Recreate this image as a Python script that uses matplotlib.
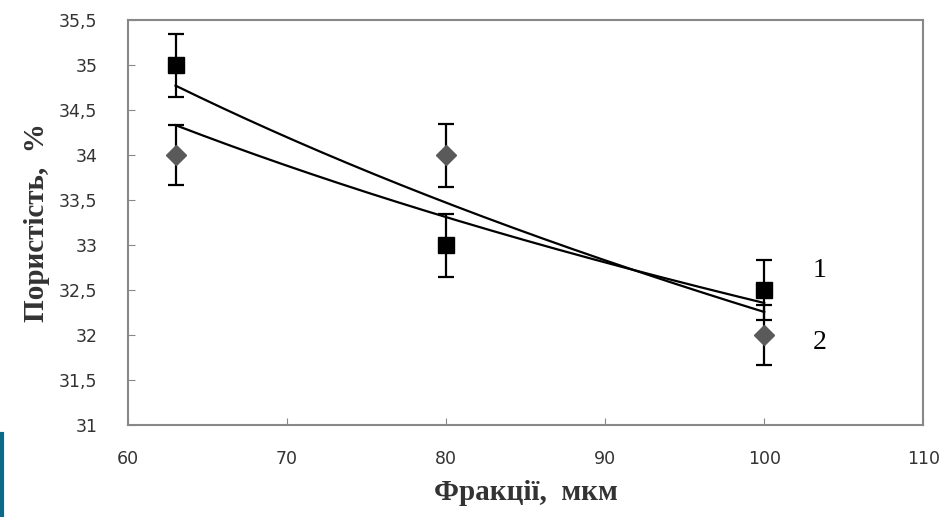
import numpy as np
import matplotlib
matplotlib.use("Agg")
import matplotlib.pyplot as plt
from matplotlib.lines import Line2D

# Data
fractions = [63, 80, 100]
porosity_1 = [35.0, 33.0, 32.5]
err_1 = [0.35, 0.35, 0.33]
porosity_2 = [34.0, 34.0, 32.0]
err_2 = [0.33, 0.35, 0.33]

x_ticks = [60, 70, 80, 90, 100, 110]
y_ticks = [31, 31.5, 32, 32.5, 33, 33.5, 34, 34.5, 35, 35.5]
y_tick_labels = ["31", "31,5", "32", "32,5", "33", "33,5", "34", "34,5", "35", "35,5"]
series_labels = ["1", "2"]

fig = plt.figure(figsize=(9.47, 5.17), dpi=100)
ax = fig.add_axes([0.135, 0.178, 0.84, 0.783])

# logarithmic trend lines (fitted from data)
xx = np.linspace(min(fractions), max(fractions), 200)
for ys in (porosity_1, porosity_2):
    b, a = np.polyfit(np.log(fractions), ys, 1)
    ax.plot(xx, a + b * np.log(xx), color="black", lw=1.6, zorder=2)

ax.errorbar(fractions, porosity_1, yerr=err_1, fmt="s", color="black",
            ms=12, ecolor="black", elinewidth=1.6, capsize=6, capthick=1.6, zorder=4)
ax.errorbar(fractions, porosity_2, yerr=err_2, fmt="D", color="#5a5a5a",
            ms=10, ecolor="black", elinewidth=1.6, capsize=6, capthick=1.6, zorder=3)

ax.text(103.5, 32.72, series_labels[0], fontsize=20, family="Liberation Serif",
        ha="center", va="center")
ax.text(103.5, 31.92, series_labels[1], fontsize=20, family="Liberation Serif",
        ha="center", va="center")

ax.set_xlim(60, 110)
ax.set_ylim(31, 35.5)
ax.set_xticks(x_ticks)
ax.set_xticklabels([str(t) for t in x_ticks])
ax.set_yticks(y_ticks)
ax.set_yticklabels(y_tick_labels)
ax.tick_params(direction="in", length=5, color="#888888", labelsize=12.5,
               labelcolor="#333333")
ax.tick_params(axis="y", pad=22)
ax.tick_params(axis="x", pad=18)
for s in ax.spines.values():
    s.set_color("#888888")
    s.set_linewidth(1.5)

ax.set_xlabel("Фракції,  мкм", family="Liberation Serif", fontweight="bold",
              fontsize=21, color="#333333", labelpad=8)
ax.set_ylabel("Пористість,  %", family="Liberation Serif", fontweight="bold",
              fontsize=21, color="#333333", labelpad=6)

# blue edge artifact at left bottom
fig.add_artist(Line2D([0.002, 0.002], [0.0, 0.16], transform=fig.transFigure,
                      color="#0a6a8a", lw=3))

fig.savefig("out.png", dpi=100)
